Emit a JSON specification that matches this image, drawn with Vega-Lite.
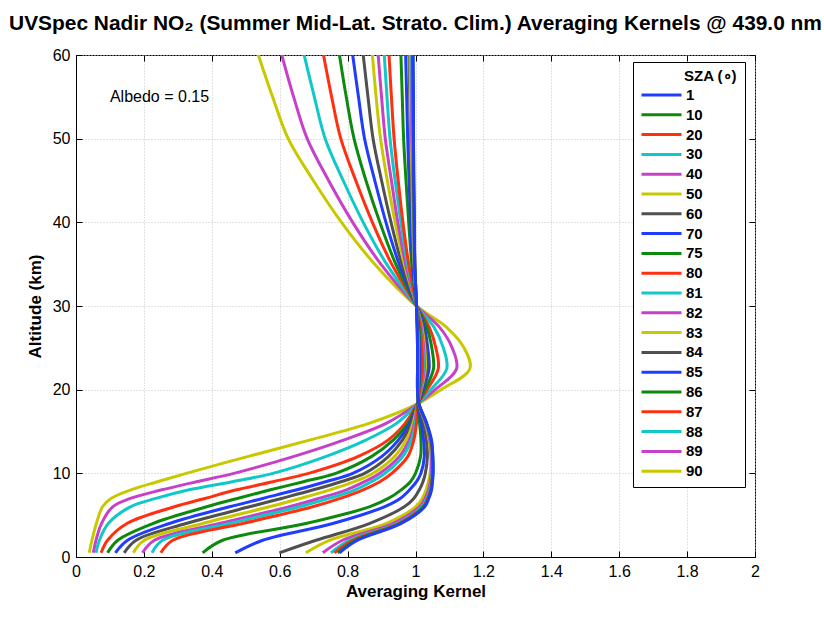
{
"$schema": "https://vega.github.io/schema/vega-lite/v6.json",
"width": 679, "height": 502,
"autosize": {"type": "none"},
"padding": {"left": 76, "top": 55, "right": 69, "bottom": 63},
"background": "white",
"title": {"text": "UVSpec Nadir NO₂ (Summer Mid-Lat. Strato. Clim.) Averaging Kernels @ 439.0 nm", "font": "Liberation Sans", "fontSize": 20.9, "fontWeight": "bold", "anchor": "middle", "frame": "group", "offset": 13, "color": "black"},
"config": {
  "view": {"stroke": "black", "strokeWidth": 1},
  "axis": {"labelFont": "Liberation Sans", "labelFontSize": 16, "labelColor": "black", "titleFont": "Liberation Sans", "titleFontSize": 17, "titleFontWeight": "bold", "titleColor": "black", "domainColor": "black", "tickColor": "black", "tickSize": -6, "gridColor": "#c4c4c4", "gridDash": [1, 2], "gridWidth": 1, "labelFlush": false, "labelOverlap": false}
},
"resolve": {"axis": {"x": "independent", "y": "independent"}},
"layer": [
{
"data": {"values": [
{"s":90,"h":0.5,"k":0.039},{"s":90,"h":2,"k":0.047},{"s":90,"h":4,"k":0.060},{"s":90,"h":6,"k":0.078},{"s":90,"h":7,"k":0.103},{"s":90,"h":8,"k":0.160},{"s":90,"h":9,"k":0.240},{"s":90,"h":10,"k":0.325},{"s":90,"h":12,"k":0.505},{"s":90,"h":14,"k":0.690},{"s":90,"h":16,"k":0.865},{"s":90,"h":18.3,"k":1.006},{"s":90,"h":20,"k":1.075},{"s":90,"h":22.5,"k":1.160},{"s":90,"h":25,"k":1.143},{"s":90,"h":27.5,"k":1.090},{"s":90,"h":30,"k":1.003},{"s":90,"h":35,"k":0.880},{"s":90,"h":40,"k":0.782},{"s":90,"h":45,"k":0.699},{"s":90,"h":50,"k":0.625},{"s":90,"h":55,"k":0.579},{"s":90,"h":60,"k":0.537},
{"s":89,"h":0.5,"k":0.051},{"s":89,"h":2,"k":0.059},{"s":89,"h":4,"k":0.075},{"s":89,"h":6,"k":0.108},{"s":89,"h":7,"k":0.160},{"s":89,"h":8,"k":0.250},{"s":89,"h":9,"k":0.355},{"s":89,"h":10,"k":0.465},{"s":89,"h":12,"k":0.640},{"s":89,"h":14,"k":0.790},{"s":89,"h":16,"k":0.915},{"s":89,"h":18.3,"k":1.006},{"s":89,"h":20,"k":1.058},{"s":89,"h":22.5,"k":1.121},{"s":89,"h":25,"k":1.108},{"s":89,"h":27.5,"k":1.070},{"s":89,"h":30,"k":1.003},{"s":89,"h":35,"k":0.898},{"s":89,"h":40,"k":0.815},{"s":89,"h":45,"k":0.744},{"s":89,"h":50,"k":0.681},{"s":89,"h":55,"k":0.641},{"s":89,"h":60,"k":0.606},
{"s":88,"h":0.5,"k":0.059},{"s":88,"h":2,"k":0.069},{"s":88,"h":4,"k":0.095},{"s":88,"h":6,"k":0.160},{"s":88,"h":7,"k":0.235},{"s":88,"h":8,"k":0.330},{"s":88,"h":9,"k":0.460},{"s":88,"h":10,"k":0.580},{"s":88,"h":12,"k":0.735},{"s":88,"h":14,"k":0.855},{"s":88,"h":16,"k":0.945},{"s":88,"h":18.3,"k":1.006},{"s":88,"h":20,"k":1.045},{"s":88,"h":22.5,"k":1.092},{"s":88,"h":25,"k":1.082},{"s":88,"h":27.5,"k":1.054},{"s":88,"h":30,"k":1.003},{"s":88,"h":35,"k":0.915},{"s":88,"h":40,"k":0.846},{"s":88,"h":45,"k":0.787},{"s":88,"h":50,"k":0.734},{"s":88,"h":55,"k":0.702},{"s":88,"h":60,"k":0.672},
{"s":87,"h":0.5,"k":0.074},{"s":87,"h":2,"k":0.093},{"s":87,"h":4,"k":0.150},{"s":87,"h":6,"k":0.290},{"s":87,"h":7,"k":0.380},{"s":87,"h":8,"k":0.470},{"s":87,"h":9,"k":0.580},{"s":87,"h":10,"k":0.685},{"s":87,"h":12,"k":0.830},{"s":87,"h":14,"k":0.920},{"s":87,"h":16,"k":0.970},{"s":87,"h":18.3,"k":1.006},{"s":87,"h":20,"k":1.034},{"s":87,"h":22.5,"k":1.067},{"s":87,"h":25,"k":1.060},{"s":87,"h":27.5,"k":1.040},{"s":87,"h":30,"k":1.003},{"s":87,"h":35,"k":0.930},{"s":87,"h":40,"k":0.873},{"s":87,"h":45,"k":0.824},{"s":87,"h":50,"k":0.780},{"s":87,"h":55,"k":0.753},{"s":87,"h":60,"k":0.729},
{"s":86,"h":0.5,"k":0.093},{"s":86,"h":2,"k":0.123},{"s":86,"h":4,"k":0.226},{"s":86,"h":6,"k":0.385},{"s":86,"h":7,"k":0.475},{"s":86,"h":8,"k":0.570},{"s":86,"h":9,"k":0.670},{"s":86,"h":10,"k":0.765},{"s":86,"h":12,"k":0.870},{"s":86,"h":14,"k":0.935},{"s":86,"h":16,"k":0.978},{"s":86,"h":18.3,"k":1.006},{"s":86,"h":20,"k":1.028},{"s":86,"h":22.5,"k":1.053},{"s":86,"h":25,"k":1.048},{"s":86,"h":27.5,"k":1.033},{"s":86,"h":30,"k":1.003},{"s":86,"h":35,"k":0.942},{"s":86,"h":40,"k":0.895},{"s":86,"h":45,"k":0.854},{"s":86,"h":50,"k":0.819},{"s":86,"h":55,"k":0.796},{"s":86,"h":60,"k":0.776},
{"s":85,"h":0.5,"k":0.116},{"s":85,"h":2,"k":0.152},{"s":85,"h":4,"k":0.275},{"s":85,"h":6,"k":0.452},{"s":85,"h":7,"k":0.550},{"s":85,"h":8,"k":0.648},{"s":85,"h":9,"k":0.735},{"s":85,"h":10,"k":0.815},{"s":85,"h":12,"k":0.900},{"s":85,"h":14,"k":0.950},{"s":85,"h":16,"k":0.983},{"s":85,"h":18.3,"k":1.006},{"s":85,"h":20,"k":1.022},{"s":85,"h":22.5,"k":1.040},{"s":85,"h":25,"k":1.036},{"s":85,"h":27.5,"k":1.026},{"s":85,"h":30,"k":1.003},{"s":85,"h":35,"k":0.952},{"s":85,"h":40,"k":0.913},{"s":85,"h":45,"k":0.880},{"s":85,"h":50,"k":0.850},{"s":85,"h":55,"k":0.832},{"s":85,"h":60,"k":0.815},
{"s":84,"h":0.5,"k":0.142},{"s":84,"h":2,"k":0.177},{"s":84,"h":4,"k":0.324},{"s":84,"h":6,"k":0.511},{"s":84,"h":7,"k":0.605},{"s":84,"h":8,"k":0.697},{"s":84,"h":9,"k":0.780},{"s":84,"h":10,"k":0.850},{"s":84,"h":12,"k":0.920},{"s":84,"h":14,"k":0.962},{"s":84,"h":16,"k":0.988},{"s":84,"h":18.3,"k":1.006},{"s":84,"h":20,"k":1.019},{"s":84,"h":22.5,"k":1.034},{"s":84,"h":25,"k":1.031},{"s":84,"h":27.5,"k":1.022},{"s":84,"h":30,"k":1.003},{"s":84,"h":35,"k":0.960},{"s":84,"h":40,"k":0.928},{"s":84,"h":45,"k":0.900},{"s":84,"h":50,"k":0.875},{"s":84,"h":55,"k":0.860},{"s":84,"h":60,"k":0.846},
{"s":83,"h":0.5,"k":0.169},{"s":83,"h":2,"k":0.201},{"s":83,"h":4,"k":0.373},{"s":83,"h":6,"k":0.569},{"s":83,"h":7,"k":0.660},{"s":83,"h":8,"k":0.746},{"s":83,"h":9,"k":0.820},{"s":83,"h":10,"k":0.875},{"s":83,"h":12,"k":0.938},{"s":83,"h":14,"k":0.973},{"s":83,"h":16,"k":0.993},{"s":83,"h":18.3,"k":1.006},{"s":83,"h":20,"k":1.017},{"s":83,"h":22.5,"k":1.029},{"s":83,"h":25,"k":1.027},{"s":83,"h":27.5,"k":1.019},{"s":83,"h":30,"k":1.003},{"s":83,"h":35,"k":0.967},{"s":83,"h":40,"k":0.940},{"s":83,"h":45,"k":0.917},{"s":83,"h":50,"k":0.897},{"s":83,"h":55,"k":0.884},{"s":83,"h":60,"k":0.873},
{"s":82,"h":0.5,"k":0.196},{"s":82,"h":2,"k":0.231},{"s":82,"h":4,"k":0.422},{"s":82,"h":6,"k":0.628},{"s":82,"h":7,"k":0.715},{"s":82,"h":8,"k":0.795},{"s":82,"h":9,"k":0.850},{"s":82,"h":10,"k":0.895},{"s":82,"h":12,"k":0.952},{"s":82,"h":14,"k":0.982},{"s":82,"h":16,"k":0.997},{"s":82,"h":18.3,"k":1.006},{"s":82,"h":20,"k":1.016},{"s":82,"h":22.5,"k":1.026},{"s":82,"h":25,"k":1.024},{"s":82,"h":27.5,"k":1.017},{"s":82,"h":30,"k":1.003},{"s":82,"h":35,"k":0.971},{"s":82,"h":40,"k":0.948},{"s":82,"h":45,"k":0.929},{"s":82,"h":50,"k":0.911},{"s":82,"h":55,"k":0.900},{"s":82,"h":60,"k":0.890},
{"s":81,"h":0.5,"k":0.224},{"s":81,"h":2,"k":0.255},{"s":81,"h":4,"k":0.452},{"s":81,"h":6,"k":0.658},{"s":81,"h":7,"k":0.745},{"s":81,"h":8,"k":0.820},{"s":81,"h":9,"k":0.870},{"s":81,"h":10,"k":0.910},{"s":81,"h":12,"k":0.962},{"s":81,"h":14,"k":0.988},{"s":81,"h":16,"k":1.000},{"s":81,"h":18.3,"k":1.006},{"s":81,"h":20,"k":1.014},{"s":81,"h":22.5,"k":1.023},{"s":81,"h":25,"k":1.021},{"s":81,"h":27.5,"k":1.015},{"s":81,"h":30,"k":1.003},{"s":81,"h":35,"k":0.976},{"s":81,"h":40,"k":0.957},{"s":81,"h":45,"k":0.940},{"s":81,"h":50,"k":0.925},{"s":81,"h":55,"k":0.916},{"s":81,"h":60,"k":0.908},
{"s":80,"h":0.5,"k":0.250},{"s":80,"h":2,"k":0.285},{"s":80,"h":4,"k":0.491},{"s":80,"h":6,"k":0.697},{"s":80,"h":7,"k":0.778},{"s":80,"h":8,"k":0.844},{"s":80,"h":9,"k":0.895},{"s":80,"h":10,"k":0.930},{"s":80,"h":12,"k":0.977},{"s":80,"h":14,"k":0.995},{"s":80,"h":16,"k":1.003},{"s":80,"h":18.3,"k":1.006},{"s":80,"h":20,"k":1.013},{"s":80,"h":22.5,"k":1.021},{"s":80,"h":25,"k":1.019},{"s":80,"h":27.5,"k":1.014},{"s":80,"h":30,"k":1.003},{"s":80,"h":35,"k":0.980},{"s":80,"h":40,"k":0.963},{"s":80,"h":45,"k":0.949},{"s":80,"h":50,"k":0.937},{"s":80,"h":55,"k":0.929},{"s":80,"h":60,"k":0.922},
{"s":75,"h":0.5,"k":0.373},{"s":75,"h":2,"k":0.432},{"s":75,"h":4,"k":0.677},{"s":75,"h":6,"k":0.864},{"s":75,"h":7,"k":0.920},{"s":75,"h":8,"k":0.957},{"s":75,"h":9,"k":0.985},{"s":75,"h":10,"k":1.000},{"s":75,"h":12,"k":1.015},{"s":75,"h":14,"k":1.016},{"s":75,"h":16,"k":1.012},{"s":75,"h":18.3,"k":1.007},{"s":75,"h":20,"k":1.010},{"s":75,"h":22.5,"k":1.014},{"s":75,"h":25,"k":1.013},{"s":75,"h":27.5,"k":1.010},{"s":75,"h":30,"k":1.003},{"s":75,"h":35,"k":0.989},{"s":75,"h":40,"k":0.980},{"s":75,"h":45,"k":0.972},{"s":75,"h":50,"k":0.965},{"s":75,"h":55,"k":0.961},{"s":75,"h":60,"k":0.957},
{"s":70,"h":0.5,"k":0.469},{"s":70,"h":2,"k":0.550},{"s":70,"h":4,"k":0.756},{"s":70,"h":6,"k":0.908},{"s":70,"h":7,"k":0.955},{"s":70,"h":8,"k":0.982},{"s":70,"h":9,"k":1.003},{"s":70,"h":10,"k":1.016},{"s":70,"h":12,"k":1.026},{"s":70,"h":14,"k":1.024},{"s":70,"h":16,"k":1.017},{"s":70,"h":18.3,"k":1.008},{"s":70,"h":20,"k":1.009},{"s":70,"h":22.5,"k":1.012},{"s":70,"h":25,"k":1.011},{"s":70,"h":27.5,"k":1.008},{"s":70,"h":30,"k":1.003},{"s":70,"h":35,"k":0.992},{"s":70,"h":40,"k":0.986},{"s":70,"h":45,"k":0.981},{"s":70,"h":50,"k":0.977},{"s":70,"h":55,"k":0.974},{"s":70,"h":60,"k":0.971},
{"s":60,"h":0.5,"k":0.599},{"s":60,"h":2,"k":0.707},{"s":60,"h":4,"k":0.864},{"s":60,"h":6,"k":0.967},{"s":60,"h":7,"k":0.995},{"s":60,"h":8,"k":1.011},{"s":60,"h":9,"k":1.022},{"s":60,"h":10,"k":1.029},{"s":60,"h":12,"k":1.035},{"s":60,"h":14,"k":1.032},{"s":60,"h":16,"k":1.024},{"s":60,"h":18.3,"k":1.009},{"s":60,"h":20,"k":1.008},{"s":60,"h":22.5,"k":1.010},{"s":60,"h":25,"k":1.009},{"s":60,"h":27.5,"k":1.007},{"s":60,"h":30,"k":1.003},{"s":60,"h":35,"k":0.995},{"s":60,"h":40,"k":0.991},{"s":60,"h":45,"k":0.988},{"s":60,"h":50,"k":0.985},{"s":60,"h":55,"k":0.983},{"s":60,"h":60,"k":0.981},
{"s":50,"h":0.5,"k":0.677},{"s":50,"h":2,"k":0.746},{"s":50,"h":4,"k":0.913},{"s":50,"h":6,"k":1.000},{"s":50,"h":7,"k":1.020},{"s":50,"h":8,"k":1.031},{"s":50,"h":9,"k":1.038},{"s":50,"h":10,"k":1.043},{"s":50,"h":12,"k":1.045},{"s":50,"h":14,"k":1.040},{"s":50,"h":16,"k":1.029},{"s":50,"h":18.3,"k":1.010},{"s":50,"h":20,"k":1.007},{"s":50,"h":22.5,"k":1.008},{"s":50,"h":25,"k":1.008},{"s":50,"h":27.5,"k":1.006},{"s":50,"h":30,"k":1.003},{"s":50,"h":35,"k":0.996},{"s":50,"h":40,"k":0.992},{"s":50,"h":45,"k":0.990},{"s":50,"h":50,"k":0.987},{"s":50,"h":55,"k":0.985},{"s":50,"h":60,"k":0.984},
{"s":40,"h":0.5,"k":0.727},{"s":40,"h":2,"k":0.785},{"s":40,"h":4,"k":0.933},{"s":40,"h":6,"k":1.011},{"s":40,"h":7,"k":1.028},{"s":40,"h":8,"k":1.038},{"s":40,"h":9,"k":1.043},{"s":40,"h":10,"k":1.046},{"s":40,"h":12,"k":1.047},{"s":40,"h":14,"k":1.042},{"s":40,"h":16,"k":1.030},{"s":40,"h":18.3,"k":1.010},{"s":40,"h":20,"k":1.007},{"s":40,"h":22.5,"k":1.007},{"s":40,"h":25,"k":1.007},{"s":40,"h":27.5,"k":1.006},{"s":40,"h":30,"k":1.003},{"s":40,"h":35,"k":0.997},{"s":40,"h":40,"k":0.994},{"s":40,"h":45,"k":0.992},{"s":40,"h":50,"k":0.989},{"s":40,"h":55,"k":0.988},{"s":40,"h":60,"k":0.987},
{"s":30,"h":0.5,"k":0.751},{"s":30,"h":2,"k":0.805},{"s":30,"h":4,"k":0.945},{"s":30,"h":6,"k":1.018},{"s":30,"h":7,"k":1.033},{"s":30,"h":8,"k":1.042},{"s":30,"h":9,"k":1.046},{"s":30,"h":10,"k":1.049},{"s":30,"h":12,"k":1.049},{"s":30,"h":14,"k":1.044},{"s":30,"h":16,"k":1.031},{"s":30,"h":18.3,"k":1.010},{"s":30,"h":20,"k":1.006},{"s":30,"h":22.5,"k":1.007},{"s":30,"h":25,"k":1.007},{"s":30,"h":27.5,"k":1.006},{"s":30,"h":30,"k":1.003},{"s":30,"h":35,"k":0.997},{"s":30,"h":40,"k":0.995},{"s":30,"h":45,"k":0.993},{"s":30,"h":50,"k":0.991},{"s":30,"h":55,"k":0.990},{"s":30,"h":60,"k":0.989},
{"s":20,"h":0.5,"k":0.761},{"s":20,"h":2,"k":0.815},{"s":20,"h":4,"k":0.950},{"s":20,"h":6,"k":1.022},{"s":20,"h":7,"k":1.036},{"s":20,"h":8,"k":1.044},{"s":20,"h":9,"k":1.048},{"s":20,"h":10,"k":1.050},{"s":20,"h":12,"k":1.050},{"s":20,"h":14,"k":1.045},{"s":20,"h":16,"k":1.032},{"s":20,"h":18.3,"k":1.010},{"s":20,"h":20,"k":1.006},{"s":20,"h":22.5,"k":1.006},{"s":20,"h":25,"k":1.006},{"s":20,"h":27.5,"k":1.005},{"s":20,"h":30,"k":1.003},{"s":20,"h":35,"k":0.998},{"s":20,"h":40,"k":0.996},{"s":20,"h":45,"k":0.994},{"s":20,"h":50,"k":0.993},{"s":20,"h":55,"k":0.992},{"s":20,"h":60,"k":0.991},
{"s":10,"h":0.5,"k":0.771},{"s":10,"h":2,"k":0.824},{"s":10,"h":4,"k":0.955},{"s":10,"h":6,"k":1.025},{"s":10,"h":7,"k":1.038},{"s":10,"h":8,"k":1.046},{"s":10,"h":9,"k":1.049},{"s":10,"h":10,"k":1.051},{"s":10,"h":12,"k":1.051},{"s":10,"h":14,"k":1.046},{"s":10,"h":16,"k":1.032},{"s":10,"h":18.3,"k":1.010},{"s":10,"h":20,"k":1.006},{"s":10,"h":22.5,"k":1.006},{"s":10,"h":25,"k":1.006},{"s":10,"h":27.5,"k":1.005},{"s":10,"h":30,"k":1.003},{"s":10,"h":35,"k":0.998},{"s":10,"h":40,"k":0.996},{"s":10,"h":45,"k":0.995},{"s":10,"h":50,"k":0.994},{"s":10,"h":55,"k":0.993},{"s":10,"h":60,"k":0.992},
{"s":1,"h":0.5,"k":0.776},{"s":1,"h":2,"k":0.829},{"s":1,"h":4,"k":0.958},{"s":1,"h":6,"k":1.027},{"s":1,"h":7,"k":1.039},{"s":1,"h":8,"k":1.047},{"s":1,"h":9,"k":1.050},{"s":1,"h":10,"k":1.052},{"s":1,"h":12,"k":1.051},{"s":1,"h":14,"k":1.047},{"s":1,"h":16,"k":1.033},{"s":1,"h":18.3,"k":1.010},{"s":1,"h":20,"k":1.006},{"s":1,"h":22.5,"k":1.006},{"s":1,"h":25,"k":1.006},{"s":1,"h":27.5,"k":1.005},{"s":1,"h":30,"k":1.003},{"s":1,"h":35,"k":0.998},{"s":1,"h":40,"k":0.997},{"s":1,"h":45,"k":0.995},{"s":1,"h":50,"k":0.994},{"s":1,"h":55,"k":0.994},{"s":1,"h":60,"k":0.993}
]},
"mark": {"type": "line", "strokeWidth": 3, "interpolate": "catmull-rom", "clip": true},
"encoding": {
  "x": {"field": "k", "type": "quantitative", "scale": {"domain": [0, 2], "nice": false, "zero": false},
        "axis": {"orient": "bottom", "title": "Averaging Kernel", "values": [0,0.2,0.4,0.6,0.8,1,1.2,1.4,1.6,1.8,2], "format": ".1~f", "labelPadding": 12, "titlePadding": 4}},
  "y": {"field": "h", "type": "quantitative", "scale": {"domain": [0, 60], "nice": false},
        "axis": {"orient": "left", "title": "Altitude (km)", "values": [0,10,20,30,40,50,60], "labelPadding": 12, "titlePadding": 8}},
  "color": {"field": "s", "type": "nominal",
    "scale": {"domain": [1,10,20,30,40,50,60,70,75,80,81,82,83,84,85,86,87,88,89,90],
              "range": ["#1f3cff","#0d8a0d","#ff3010","#10c8c8","#c840c8","#c8c800","#505050","#1f3cff","#0d8a0d","#ff3010","#10c8c8","#c840c8","#c8c800","#505050","#1f3cff","#0d8a0d","#ff3010","#10c8c8","#c840c8","#c8c800"]},
    "legend": {"orient": "none", "legendX": 557, "legendY": 7, "title": "\u2800\u2800\u2800\u2800SZA (∘)", "titleFont": "Liberation Sans", "titleFontSize": 15, "titleFontWeight": "bold", "titleColor": "black", "titlePadding": 3, "labelFont": "Liberation Sans", "labelFontSize": 15, "labelFontWeight": "bold", "labelColor": "black", "labelOffset": 3, "symbolType": "stroke", "symbolSize": 1600, "symbolStrokeWidth": 3, "clipHeight": 16, "padding": 7, "rowPadding": 3.8, "strokeColor": "black", "fillColor": "white", "symbolLimit": 0}},
  "order": {"field": "h", "type": "quantitative"}
}
},
{
"data": {"values": [{"x": 0.1, "y": 55, "t": "Albedo = 0.15"}]},
"mark": {"type": "text", "align": "left", "baseline": "middle", "font": "Liberation Sans", "fontSize": 16, "color": "black"},
"encoding": {
  "x": {"field": "x", "type": "quantitative", "scale": {"domain": [0, 2], "nice": false, "zero": false},
        "axis": {"orient": "top", "labels": false, "title": null, "grid": false, "domain": false, "values": [0,0.2,0.4,0.6,0.8,1,1.2,1.4,1.6,1.8,2]}},
  "y": {"field": "y", "type": "quantitative", "scale": {"domain": [0, 60], "nice": false},
        "axis": {"orient": "right", "labels": false, "title": null, "grid": false, "domain": false, "values": [0,10,20,30,40,50,60]}},
  "text": {"field": "t"}
}
}
]
}
